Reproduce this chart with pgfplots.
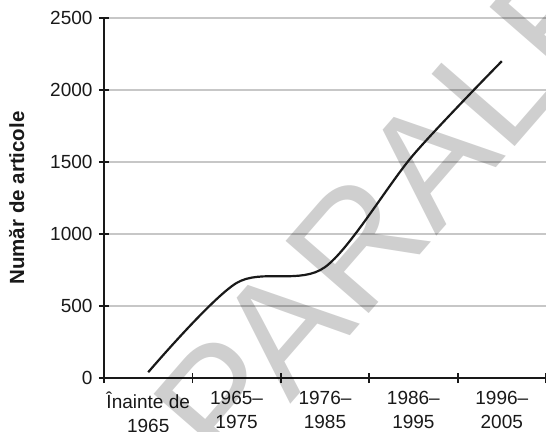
\documentclass[border=0pt]{standalone}
\usepackage{pgfplots}
\pgfplotsset{compat=1.18}
\usepackage{fontspec}
\setmainfont{Liberation Sans}
\begin{document}
\begin{tikzpicture}
\begin{axis}[
  name=ax,
  width=442bp, height=360bp, scale only axis,
  xmin=-0.5, xmax=4.5, ymin=0, ymax=2500,
  axis x line*=bottom, axis y line*=left,
  axis line style={-, line width=2.2bp, black!90},
  xtick={-0.5,0.5,1.5,2.5,3.5,4.5},
  x tick label as interval,
  xticklabels={{Înainte de\\1965},{1965–\\1975},{1976–\\1985},{1986–\\1995},{1996–\\2005}},
  ytick={0,500,1000,1500,2000,2500},
  /pgf/number format/1000 sep={},
  /pgf/number format/assume math mode=true,
  tick align=center,
  major tick length=10bp,
  tick style={line width=1.8bp, black!90},
  ymajorgrids,
  major grid style={line width=1.2bp, black!22},
  xticklabel style={align=center, font=\fontsize{19bp}{24bp}\selectfont, text=black!90, yshift=-5bp},
  yticklabel style={font=\fontsize{19bp}{24bp}\selectfont, text=black!90, xshift=-3bp},
  ylabel={Număr de articole},
  ylabel style={font=\bfseries\fontsize{20.5bp}{24bp}\selectfont, text=black!90, yshift=19bp},
  clip=false,
]
\node[overlay, rotate=49, anchor=base west, text=black, text opacity=0.19,
  font=\fontsize{160bp}{160bp}\selectfont] at (axis cs:0.88,-700) {PARALELA};
\addplot[smooth, tension=0.5, line width=2.2bp, black!90] coordinates {
  (0,40) (1,660) (2,770) (3,1550) (4,2200)
};
\end{axis}
\pgfresetboundingbox
\path[use as bounding box] ([xshift=-104bp,yshift=-54bp]ax.south west) rectangle ([yshift=18bp]ax.north east);
\end{tikzpicture}
\end{document}
